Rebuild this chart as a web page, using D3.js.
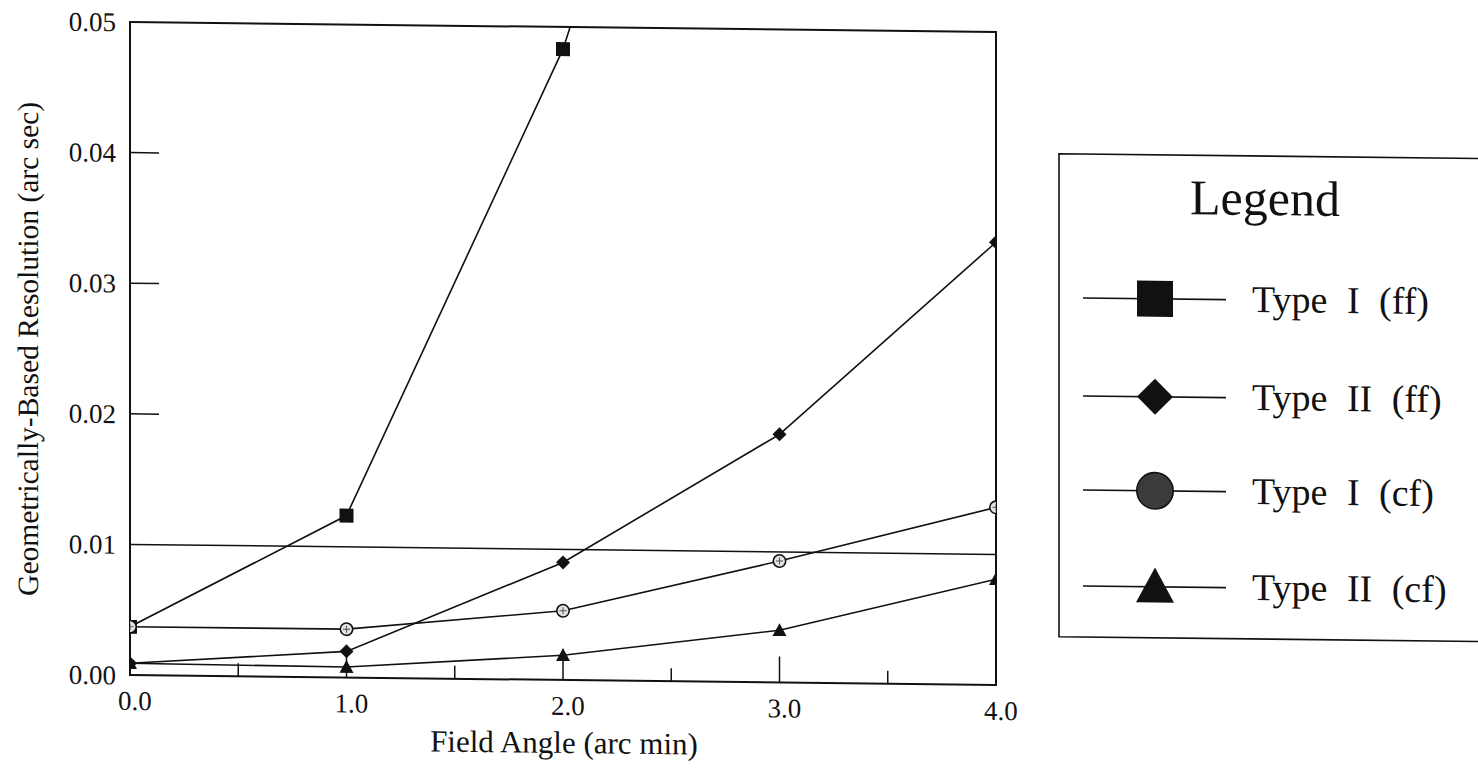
<!DOCTYPE html>
<html>
<head>
<meta charset="utf-8">
<script src="https://cdn.jsdelivr.net/npm/d3@7"></script>
<style>
  html, body { margin: 0; padding: 0; background: #fff; }
  svg { display: block; }
  text { font-family: "Liberation Serif", "Times New Roman", serif; fill: #111; }
</style>
</head>
<body>
<svg id="chart" width="1478" height="778"></svg>
<script>
// ---- data ----
const fieldAngles = [0, 1, 2, 3, 4];
const typeIff  = [0.0037, 0.0124, 0.0483, 0.100];          // last point runs off the top
const typeIIff = [0.0009, 0.0020, 0.0090, 0.0190, 0.0339];
const typeIcf  = [0.0037, 0.0037, 0.0053, 0.0093, 0.0136];
const typeIIcf = [0.0009, 0.0008, 0.0019, 0.0040, 0.0081];
const referenceLevel = [0.01, 0.01];
const referenceX = [0, 4];
const xTicksMajor = [0, 1, 2, 3, 4];
const xTicksMinor = [0.5, 1.5, 2.5, 3.5];
const xTickLabels = ["0.0", "1.0", "2.0", "3.0", "4.0"];
const yTicks = [0, 0.01, 0.02, 0.03, 0.04, 0.05];
const yTickLabels = ["0.00", "0.01", "0.02", "0.03", "0.04", "0.05"];
const seriesNames = ["Type I (ff)", "Type II (ff)", "Type I (cf)", "Type II (cf)"];
const seriesSymbols = ["square", "diamond", "circle", "triangle"];
const xTitle = "Field Angle (arc min)";
const yTitle = "Geometrically-Based Resolution (arc sec)";
const legendTitle = "Legend";

// ---- layout ----
const L = 130, R = 996, T = 22, B = 675;
const svg = d3.select("#chart");
// the scanned original is slightly sheared; mimic it
const root = svg.append("g")
  .attr("transform", `translate(${L},0) skewY(0.66) translate(${-L},0)`);

const x = d3.scaleLinear().domain([0, 4]).range([L, R]);
const y = d3.scaleLinear().domain([0, 0.05]).range([B, T]);

const plot = root.append("g");
plot.append("clipPath").attr("id", "clip")
  .append("rect").attr("x", L).attr("y", T).attr("width", R - L).attr("height", B - T + 20);

// frame
plot.append("rect").attr("x", L).attr("y", T).attr("width", R - L).attr("height", B - T)
  .attr("fill", "none").attr("stroke", "#111").attr("stroke-width", 2);

// y ticks (inward)
plot.selectAll(".ytick").data(yTicks.filter(d => d > 0 && d < 0.05 && d !== 0.01)).join("line")
  .attr("x1", L).attr("x2", L + 29)
  .attr("y1", d => y(d)).attr("y2", d => y(d))
  .attr("stroke", "#111").attr("stroke-width", 1.5);

// x ticks (inward)
plot.selectAll(".xmaj").data(xTicksMajor.filter(d => d > 0 && d < 4)).join("line")
  .attr("x1", d => x(d)).attr("x2", d => x(d))
  .attr("y1", B).attr("y2", B - 26)
  .attr("stroke", "#111").attr("stroke-width", 1.5);
plot.selectAll(".xmin").data(xTicksMinor).join("line")
  .attr("x1", d => x(d)).attr("x2", d => x(d))
  .attr("y1", B).attr("y2", B - 13)
  .attr("stroke", "#111").attr("stroke-width", 1.5);

// reference line at 0.01
const line = d3.line().x(d => x(d[0])).y(d => y(d[1]));
plot.append("path").datum(referenceX.map((v, i) => [v, referenceLevel[i]]))
  .attr("d", line).attr("fill", "none").attr("stroke", "#111").attr("stroke-width", 1.5);

// series
const allSeries = [typeIff, typeIIff, typeIcf, typeIIcf];
const lines = plot.append("g").attr("clip-path", "url(#clip)");
allSeries.forEach(s => {
  lines.append("path").datum(s.map((v, i) => [fieldAngles[i], v]))
    .attr("d", line).attr("fill", "none").attr("stroke", "#111").attr("stroke-width", 1.6);
});

function drawMarker(g, kind, cx, cy, size, legend) {
  const h = size / 2;
  if (kind === "square") {
    g.append("rect").attr("x", cx - h).attr("y", cy - h).attr("width", size).attr("height", size)
      .attr("fill", "#111");
  } else if (kind === "diamond") {
    g.append("path").attr("d", `M${cx},${cy - h}L${cx + h},${cy}L${cx},${cy + h}L${cx - h},${cy}Z`)
      .attr("fill", "#111");
  } else if (kind === "circle") {
    g.append("circle").attr("cx", cx).attr("cy", cy).attr("r", h - 0.8)
      .attr("fill", legend ? "#3b3b3b" : "#e2e2e2").attr("stroke", "#111").attr("stroke-width", 1.6);
    if (!legend) {
      g.append("path").attr("d", `M${cx - h * 0.5},${cy}L${cx + h * 0.5},${cy}M${cx},${cy - h * 0.5}L${cx},${cy + h * 0.5}`)
        .attr("stroke", "#555").attr("stroke-width", 1);
    }
  } else if (kind === "triangle") {
    const th = size * 0.92;
    g.append("path").attr("d", `M${cx},${cy - th * 0.55}L${cx + h},${cy + th * 0.45}L${cx - h},${cy + th * 0.45}Z`)
      .attr("fill", "#111");
  }
}

const marks = plot.append("g").attr("clip-path", "url(#clip)");
allSeries.forEach((s, si) => {
  s.forEach((v, i) => {
    if (v <= 0.05) drawMarker(marks, seriesSymbols[si], x(fieldAngles[i]), y(v), 14, false);
  });
});

// tick labels
root.selectAll(".ylab").data(yTicks).join("text")
  .attr("x", L - 14).attr("y", d => y(d)).attr("dy", "0.35em")
  .attr("text-anchor", "end").attr("font-size", 27)
  .text((d, i) => yTickLabels[i]);
root.selectAll(".xlab").data(xTicksMajor).join("text")
  .attr("x", d => x(d) + 5).attr("y", B + 35)
  .attr("text-anchor", "middle").attr("font-size", 27)
  .text((d, i) => xTickLabels[i]);

// axis titles
root.append("text").attr("x", 564).attr("y", 748).attr("text-anchor", "middle")
  .attr("font-size", 31).text(xTitle);
root.append("text").attr("transform", "translate(38,350) rotate(-90)")
  .attr("text-anchor", "middle").attr("font-size", 29.5).text(yTitle);

// legend
const lg = root.append("g");
const lgLeft = 1059, lgTop = 143, lgBottom = 626;
lg.append("path")
  .attr("d", `M1478,${lgTop}L${lgLeft},${lgTop}L${lgLeft},${lgBottom}L1478,${lgBottom}`)
  .attr("fill", "none").attr("stroke", "#111").attr("stroke-width", 1.6);
lg.append("text").attr("x", 1265).attr("y", 202).attr("text-anchor", "middle")
  .attr("font-size", 50).text(legendTitle);
const rowY = [287, 385, 479, 575];
const legendSizes = [36, 36, 38, 38];
seriesNames.forEach((name, i) => {
  lg.append("line").attr("x1", 1083).attr("x2", 1226).attr("y1", rowY[i]).attr("y2", rowY[i])
    .attr("stroke", "#111").attr("stroke-width", 1.6);
  drawMarker(lg, seriesSymbols[i], 1155, rowY[i], legendSizes[i], true);
  lg.append("text").attr("x", 1252).attr("y", rowY[i] + 12)
    .attr("font-size", 38).attr("word-spacing", 10).text(name);
});
</script>
</body>
</html>
